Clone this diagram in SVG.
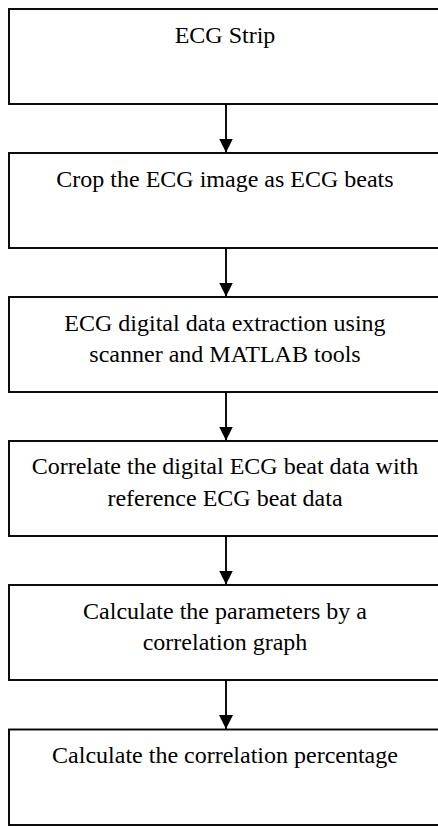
<svg xmlns="http://www.w3.org/2000/svg" width="438" height="826" viewBox="0 0 438 826">
<style>
.box{fill:#fff;stroke:#000;stroke-width:1.9}
.t{font-family:"Liberation Serif","Times New Roman",serif;font-size:24px;fill:#000;text-anchor:middle}
.c{stroke:#000;stroke-width:1.9;fill:none}
</style>
<defs>
<marker id="ah" markerWidth="14" markerHeight="14" viewBox="0 0 14 14" refX="14" refY="7" orient="auto" markerUnits="userSpaceOnUse">
<path d="M0,0 L14,7 L0,14 Z" fill="#000"/>
</marker>
</defs>
<rect width="438" height="826" fill="#fff"/>
<g id="connectors">
<line class="c" x1="226" y1="104" x2="226" y2="152.5" marker-end="url(#ah)"/>
<line class="c" x1="226" y1="248" x2="226" y2="296.5" marker-end="url(#ah)"/>
<line class="c" x1="226" y1="392" x2="226" y2="440.5" marker-end="url(#ah)"/>
<line class="c" x1="226" y1="536" x2="226" y2="584.5" marker-end="url(#ah)"/>
<line class="c" x1="226" y1="680" x2="226" y2="729" marker-end="url(#ah)"/>
</g>
<g id="n1">
<rect class="box" x="9" y="9" width="440" height="95"/>
<text class="t" x="225" y="42.5">ECG Strip</text>
</g>
<g id="n2">
<rect class="box" x="9" y="153" width="440" height="95"/>
<text class="t" x="225" y="187">Crop the ECG image as ECG beats</text>
</g>
<g id="n3">
<rect class="box" x="9" y="297" width="440" height="95"/>
<text class="t" x="225" y="330.5">ECG digital data extraction using</text>
<text class="t" x="225" y="362">scanner and MATLAB tools</text>
</g>
<g id="n4">
<rect class="box" x="9" y="441" width="440" height="95"/>
<text class="t" x="225" y="474">Correlate the digital ECG beat data with</text>
<text class="t" x="225" y="505.5">reference ECG beat data</text>
</g>
<g id="n5">
<rect class="box" x="9" y="585" width="440" height="95"/>
<text class="t" x="225" y="618.5">Calculate the parameters by a</text>
<text class="t" x="225" y="650">correlation graph</text>
</g>
<g id="n6">
<rect class="box" x="9" y="729.5" width="440" height="95.5"/>
<text class="t" x="225" y="762.5">Calculate the correlation percentage</text>
</g>
</svg>
